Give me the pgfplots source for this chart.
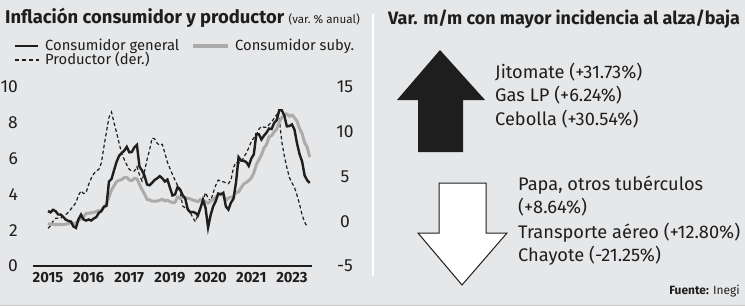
\documentclass[border=0pt]{standalone}
\usepackage{pgfplots}
\pgfplotsset{compat=1.18}
\usepackage{fontspec}
\setmainfont{Fira Sans}
\definecolor{bg}{HTML}{E6E7E9}
\definecolor{ink}{HTML}{1E1E1E}
\definecolor{gline}{HTML}{ABABAB}
\pgfplotsset{
  common/.style={
    scale only axis, width=279bp, height=179bp,
    at={(33bp,-266bp)}, anchor=south west,
    xmin=-5.9, xmax=103.9,
    major tick length=0pt, clip=false,
    tick label style={font=\fontsize{17.5}{17.5}\selectfont, text=ink},
  }
}
\begin{document}
\begin{tikzpicture}
\useasboundingbox (0,0) rectangle (745bp,-306bp);
\fill[bg] (0,0) rectangle (745bp,-306bp);
\begin{scope}[x=1bp,y=-1bp]
  \draw[white, line width=1.5bp] (373,14) -- (373,276);
  \draw[black!22, line width=1.5bp] (0,305.3) -- (745,305.3);
  % left title
  \node[anchor=base west, inner sep=0pt, text=ink] at (5,23.5)
    {\fontsize{18.5}{18.5}\selectfont\bfseries Inflación consumidor y productor \fontsize{11.7}{11.7}\selectfont\mdseries(var.\ \% anual)};
  % legend
  \draw[ink, line width=2.5bp] (15,46) -- (38,46);
  \node[anchor=base west, inner sep=0pt, text=ink, font=\fontsize{14.8}{14.8}\selectfont] at (45,50.5) {Consumidor general};
  \draw[gline, line width=3.5bp] (193,46) -- (228,46);
  \node[anchor=base west, inner sep=0pt, text=ink, font=\fontsize{14.8}{14.8}\selectfont] at (235,50.5) {Consumidor suby.};
  \draw[ink, line width=1.3bp, dash pattern=on 4bp off 3bp] (15,60) -- (39,60);
  \node[anchor=base west, inner sep=0pt, text=ink, font=\fontsize{14.8}{14.8}\selectfont] at (45,64) {Productor (der.)};
  % right panel
  \node[anchor=base west, inner sep=0pt, text=ink] at (388,24.5)
    {\fontsize{18}{18}\selectfont\bfseries Var. m/m con mayor incidencia al alza/baja};
  \fill[ink] (440,50) -- (485,100) -- (463,100) -- (463,152) -- (418,152) -- (418,100) -- (397,100) -- cycle;
  \filldraw[fill=white, draw=ink, line width=1bp] (439,183) -- (486,183) -- (486,233) -- (507,233) -- (462,285) -- (418,233) -- (439,233) -- cycle;
  \begin{scope}[every node/.style={anchor=base west, inner sep=0pt, text=ink, font=\fontsize{18.3}{18.3}\selectfont}]
    \node at (495,78) {Jitomate (+31.73\%)};
    \node at (495,101.5) {Gas LP (+6.24\%)};
    \node at (495,125) {Cebolla (+30.54\%)};
    \node at (518,190) {Papa, otros tubérculos};
    \node at (518,213.5) {(+8.64\%)};
    \node at (518,238) {Transporte aéreo (+12.80\%)};
    \node at (518,261.5) {Chayote (-21.25\%)};
  \end{scope}
  \node[anchor=base east, inner sep=0pt, text=ink, font=\fontsize{12}{12}\selectfont] at (740,294) {\textbf{Fuente:} Inegi};
\end{scope}

% producer (right axis)
\begin{axis}[common,
  axis x line=none, axis y line*=right, y axis line style={draw=none},
  ymin=-5, ymax=15, ytick={-5,0,5,10,15}, yticklabels={-5,0,5,10,15},
  yticklabel style={anchor=center, inner sep=0pt, xshift=33bp},
]
\addplot[ink, line width=1.2bp, dash pattern=on 3.5bp off 2.5bp] coordinates {
(0,-0.8) (1,-0.5) (2,0.0) (3,0.33) (4,0.35) (5,0.35) (6,0.55) (7,0.75) (8,1.0) (9,1.35) (10,1.7) (11,2.1)
(12,2.9) (13,3.4) (14,3.1) (15,3.2) (16,4.1) (17,4.8) (18,5.3) (19,5.6) (20,5.8) (21,6.5) (22,8.3) (23,10.0)
(24,11.6) (25,12.2) (26,11.0) (27,9.9) (28,8.7) (29,7.6) (30,6.9) (31,6.3) (32,5.8) (33,5.6) (34,5.6) (35,6.1)
(36,5.2) (37,4.5) (38,5.6) (39,6.9) (40,8.0) (41,9.3) (42,9.2) (43,8.7) (44,8.5) (45,8.6) (46,7.6) (47,6.6)
(48,5.9) (49,5.2) (50,4.6) (51,4.0) (52,3.3) (53,1.7) (54,1.5) (55,1.45) (56,1.0) (57,0.4) (58,-0.05) (59,0.7)
(60,1.4) (61,2.3) (62,3.2) (63,2.6) (64,2.2) (65,3.2) (66,4.0) (67,4.6) (68,4.5) (69,4.4) (70,4.3) (71,4.2)
(72,4.6) (73,6.0) (74,6.6) (75,6.5) (76,6.6) (77,7.1) (78,7.6) (79,8.2) (80,8.9) (81,9.3) (82,9.6) (83,10.3)
(84,10.6) (85,10.5) (86,10.5) (87,10.8) (88,11.1) (89,11.5) (90,11.9) (91,11.5) (92,8.9) (93,7.3) (94,6.0) (95,4.9)
(96,4.3) (97,3.8) (98,2.9) (99,1.9) (100,0.7) (101,-0.1) (102,-0.6)
};
\end{axis}

% consumer (left axis)
\begin{axis}[common,
  axis x line*=bottom, axis y line*=left, y axis line style={draw=none},
  x axis line style={line width=2bp, ink},
  ymin=0, ymax=10, ytick={0,2,...,10}, yticklabels={0,2,4,6,8,10},
  yticklabel style={anchor=east, inner sep=0pt, xshift=-15bp},
  xtick={0,16,...,96}, xticklabels={2015,2016,2017,2019,2020,2021,2023},
  xticklabel style={font=\bfseries\fontsize{14.8}{14.8}\selectfont, anchor=north, inner sep=0pt, yshift=-6bp},
]
\addplot[gline, line width=3bp, line join=round] coordinates {
(0,2.37) (1,2.32) (2,2.34) (3,2.31) (4,2.33) (5,2.32) (6,2.31) (7,2.34) (8,2.36) (9,2.47) (10,2.34) (11,2.41)
(12,2.54) (13,2.64) (14,2.76) (15,2.93) (16,2.95) (17,2.97) (18,3.00) (19,3.04) (20,3.10) (21,3.10) (22,3.29) (23,3.44)
(24,3.84) (25,4.26) (26,4.48) (27,4.72) (28,4.78) (29,4.83) (30,4.94) (31,4.96) (32,4.80) (33,4.77) (34,4.90) (35,4.87)
(36,4.56) (37,4.27) (38,4.02) (39,3.71) (40,3.69) (41,3.62) (42,3.63) (43,3.63) (44,3.67) (45,3.73) (46,3.63) (47,3.68)
(48,3.60) (49,3.54) (50,3.55) (51,3.87) (52,3.77) (53,3.85) (54,3.82) (55,3.78) (56,3.75) (57,3.68) (58,3.65) (59,3.59)
(60,3.73) (61,3.66) (62,3.60) (63,3.50) (64,3.64) (65,3.71) (66,3.85) (67,3.97) (68,3.99) (69,3.98) (70,3.66) (71,3.80)
(72,3.84) (73,3.87) (74,4.12) (75,4.13) (76,4.37) (77,4.58) (78,4.66) (79,4.78) (80,4.92) (81,5.19) (82,5.67) (83,5.94)
(84,6.21) (85,6.59) (86,6.78) (87,7.22) (88,7.28) (89,7.49) (90,7.65) (91,8.05) (92,8.28) (93,8.42) (94,8.51) (95,8.35)
(96,8.45) (97,8.29) (98,8.09) (99,7.67) (100,7.39) (101,6.89) (102,6.64) (103,6.08)
};
\addplot[ink, line width=2.4bp, line join=miter] coordinates {
(0,3.07) (1,3.00) (2,3.14) (3,3.06) (4,2.88) (5,2.87) (6,2.74) (7,2.59) (8,2.52) (9,2.48) (10,2.21) (11,2.13)
(12,2.61) (13,2.87) (14,2.60) (15,2.54) (16,2.60) (17,2.54) (18,2.65) (19,2.73) (20,2.97) (21,3.06) (22,3.31) (23,3.36)
(24,4.72) (25,4.86) (26,5.35) (27,5.82) (28,6.16) (29,6.31) (30,6.44) (31,6.66) (32,6.35) (33,6.37) (34,6.63) (35,6.77)
(36,5.55) (37,5.34) (38,5.04) (39,4.55) (40,4.51) (41,4.65) (42,4.81) (43,4.90) (44,5.02) (45,4.90) (46,4.72) (47,4.83)
(48,4.37) (49,3.94) (50,4.00) (51,4.41) (52,4.28) (53,3.95) (54,3.78) (55,3.16) (56,3.00) (57,3.02) (58,2.97) (59,2.83)
(60,3.24) (61,3.70) (62,3.25) (63,2.15) (64,2.84) (65,3.33) (66,3.62) (67,4.05) (68,4.01) (69,4.09) (70,3.33) (71,3.15)
(72,3.54) (73,3.76) (74,4.67) (75,6.08) (76,5.89) (77,5.88) (78,5.81) (79,5.59) (80,6.00) (81,6.24) (82,7.37) (83,7.36)
(84,7.07) (85,7.28) (86,7.45) (87,7.68) (88,7.65) (89,7.99) (90,8.15) (91,8.70) (92,8.70) (93,8.41) (94,7.80) (95,7.82)
(96,7.91) (97,7.62) (98,6.85) (99,6.25) (100,5.84) (101,5.06) (102,4.79) (103,4.64)
};
\end{axis}
\end{tikzpicture}
\end{document}
